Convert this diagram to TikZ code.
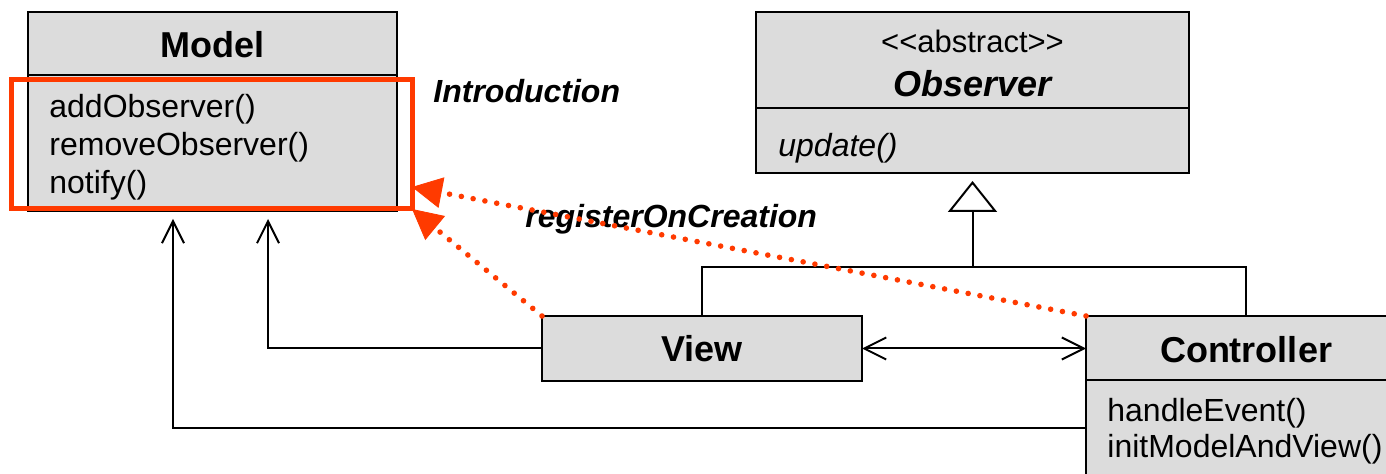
\documentclass[tikz,border=0pt]{standalone}
\usepackage{fontspec}
\setmainfont{Liberation Sans}[Ligatures=TeXOff]
\usetikzlibrary{arrows.meta}
\definecolor{boxgray}{HTML}{DCDCDC}
\definecolor{hilite}{HTML}{FF3A00}

\begin{document}
\begin{tikzpicture}[x=0.5pt,y=-0.5pt,
  classbox/.style={draw=black, line width=1pt, fill=boxgray, inner sep=0pt,
    outer sep=0pt, anchor=north west},
  classname/.style={font=\fontsize{18}{21.6}\selectfont\bfseries, anchor=base, inner sep=0pt},
  stereotype/.style={font=\fontsize{15.5}{18.6}\selectfont, anchor=base, inner sep=0pt},
  op/.style={font=\fontsize{16}{18.75}\selectfont, anchor=base west, inner sep=0pt},
  note/.style={font=\fontsize{16}{19}\selectfont\bfseries\itshape, anchor=base west, inner sep=0pt},
  link/.style={draw=black, line width=1pt},
  barb/.style={-{Straight Barb[length=11pt, width=11pt, line width=1pt]}},
  inherit/.style={-{Triangle[open, length=15.5pt, width=24.5pt, line width=1pt, fill=white]}},
  regline/.style={draw=hilite, line width=2.8pt, line cap=round, dash pattern=on 0pt off 6pt,
    -{Triangle[length=15pt, width=15.5pt, line width=0.4pt]}},
]
\useasboundingbox (0,0) rectangle (1386,474);
\clip (0,0) rectangle (1386,474);

% Model class
\node[classbox, minimum width=184.5pt, minimum height=31.5pt] (model) at (28,12) {};
\node[classbox, minimum width=184.5pt, minimum height=68pt] (modelops) at (28,75) {};
\node[classname] (modelname) at (212.5,58) {Model};
\node[op] (addobs) at (49,118) {addObserver()};
\node[op] (remobs) at (49,156) {removeObserver()};
\node[op] (notify) at (49,194) {notify()};

% Observer class
\node[classbox, minimum width=216.5pt, minimum height=48pt] (observer) at (756,12) {};
\node[classbox, minimum width=216.5pt, minimum height=32.5pt] (observerops) at (756,108) {};
\node[stereotype] (abstract) at (972.5,53) {<<abstract>>};
\node[classname, font=\fontsize{18}{21.6}\selectfont\bfseries\itshape] (observername) at (972.5,97) {Observer};
\node[op, font=\fontsize{16}{18.75}\selectfont\itshape] (update) at (778,157) {update()};

% View class
\node[classbox, minimum width=160pt, minimum height=32.5pt] (view) at (542,316) {};
\node[classname] (viewname) at (702,362) {View};

% Controller class
\node[classbox, minimum width=160pt, minimum height=32pt] (ctrl) at (1086,316) {};
\node[classbox, minimum width=160pt, minimum height=48pt] (ctrlops) at (1086,380) {};
\node[classname] (ctrlname) at (1246,363) {Controller};
\node[op] (handle) at (1107,422) {handleEvent()};
\node[op] (initmv) at (1107,458) {initModelAndView()};

% highlighted operations of Model
\node[draw=hilite, line width=2.5pt, inner sep=0pt, outer sep=0pt, anchor=north west,
  minimum width=200.5pt, minimum height=64.5pt] (focus) at (11,80) {};

% labels
\node[note] (intro) at (433,103) {Introduction};
\node[note] (register) at (525,228) {registerOnCreation};

% inheritance
\coordinate (hub) at (972.5,267);
\draw[link] (view.north) |- (hub) -| (ctrl.north);
\draw[link, inherit, shorten >=4pt] (hub) -- (observerops.south);

% associations
\draw[link, barb, shorten >=4pt] (view.west) -| ([xshift=27.75pt]modelops.south);
\draw[link, barb, shorten >=4pt] (ctrlops.west) -| ([xshift=-19.75pt]modelops.south);
\draw[link, {Straight Barb[length=11pt, width=11pt, line width=1pt]}-{Straight Barb[length=11pt, width=11pt, line width=1pt]}]
  (view.east) -- (view.east -| ctrl.west);

% registration
\draw[regline] (view.north west) -- (focus.south east);
\draw[regline] (ctrl.north west) -- ([yshift=11pt]focus.south east);
\end{tikzpicture}
\end{document}
